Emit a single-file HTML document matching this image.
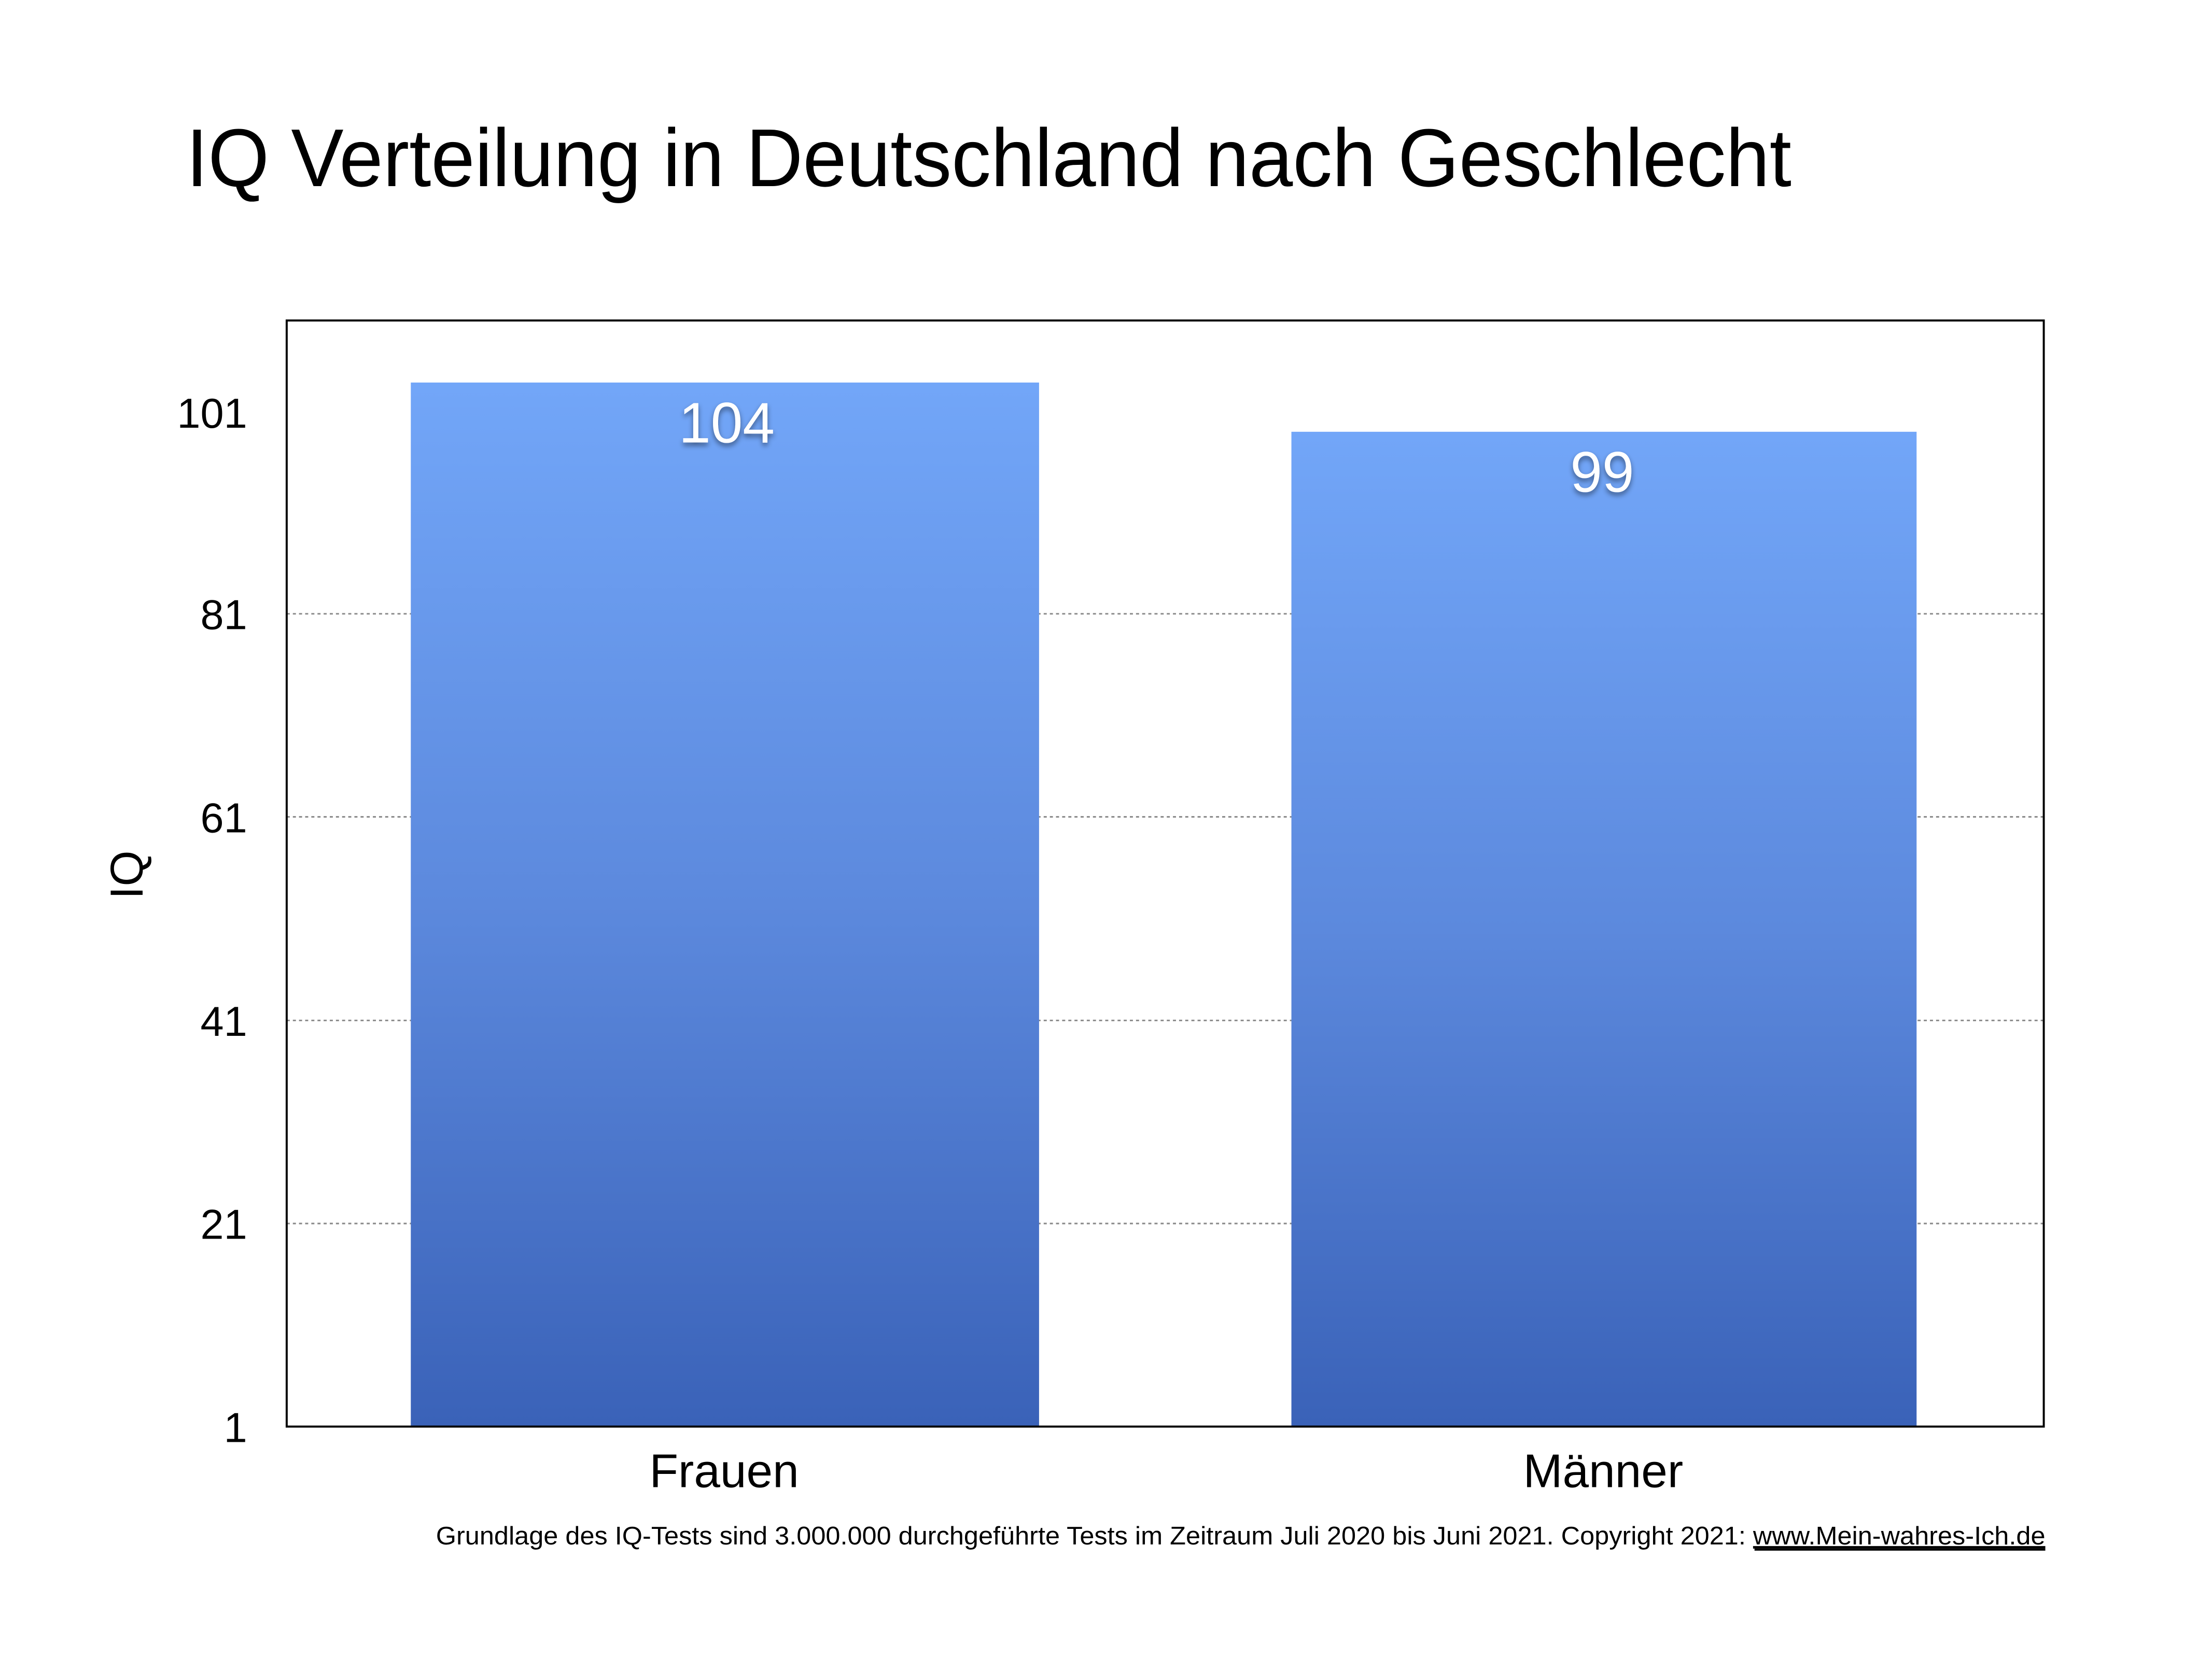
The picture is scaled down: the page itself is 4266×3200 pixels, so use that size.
<!DOCTYPE html>
<html><head><meta charset="utf-8"><style>html,body{margin:0;padding:0;background:#fff}svg{display:block}</style></head>
<body>
<svg width="4266" height="3200" viewBox="0 0 4266 3200" xmlns="http://www.w3.org/2000/svg" font-family="'Liberation Sans', sans-serif">
<defs>
<linearGradient id="g" x1="0" y1="0" x2="0" y2="1">
<stop offset="0" stop-color="#72a6f8"/>
<stop offset="0.5" stop-color="#5c89dd"/>
<stop offset="1" stop-color="#3a62b8"/>
</linearGradient>
<filter id="sh" x="-20%" y="-20%" width="140%" height="160%"><feDropShadow dx="0" dy="6" stdDeviation="5" flood-color="#000" flood-opacity="0.45"/></filter>
</defs>
<rect width="4266" height="3200" fill="#fff"/>
<g transform="scale(0.9891)">
<text x="363" y="363" font-size="160" fill="#000" textLength="3130" lengthAdjust="spacingAndGlyphs">IQ Verteilung in Deutschland nach Geschlecht</text>
<g stroke="#888" stroke-width="3" stroke-dasharray="6,6">
<line x1="559" y1="1197" x2="3985" y2="1197"/>
<line x1="559" y1="1593" x2="3985" y2="1593"/>
<line x1="559" y1="1990" x2="3985" y2="1990"/>
<line x1="559" y1="2386" x2="3985" y2="2386"/>
</g>
<rect x="801" y="746" width="1225" height="2036" fill="url(#g)"/>
<rect x="2518" y="842" width="1219" height="1940" fill="url(#g)"/>
<rect x="559" y="625" width="3426" height="2157" fill="none" stroke="#000" stroke-width="4"/>
<g font-size="82" fill="#000" text-anchor="end">
<text x="482" y="834">101</text>
<text x="482" y="1227">81</text>
<text x="482" y="1623">61</text>
<text x="482" y="2020">41</text>
<text x="482" y="2416">21</text>
<text x="482" y="2812">1</text>
</g>
<g font-size="112" fill="#fff" text-anchor="middle" filter="url(#sh)">
<text x="1417" y="863">104</text>
<text x="3124" y="959">99</text>
</g>
<g font-size="92" fill="#000" text-anchor="middle">
<text x="1412" y="2900">Frauen</text>
<text x="3126" y="2900">Männer</text>
</g>
<text transform="translate(278,1706) rotate(-90)" font-size="90" text-anchor="middle" fill="#000">IQ</text>
<text x="850" y="3012" font-size="50" fill="#000" textLength="3138" lengthAdjust="spacingAndGlyphs">Grundlage des IQ-Tests sind 3.000.000 durchgeführte Tests im Zeitraum Juli 2020 bis Juni 2021. Copyright 2021: <tspan text-decoration="underline">www.Mein-wahres-Ich.de</tspan></text>
<line x1="3421" y1="3022" x2="3988" y2="3022" stroke="#000" stroke-width="4"/>
</g>
</svg>
</body></html>
